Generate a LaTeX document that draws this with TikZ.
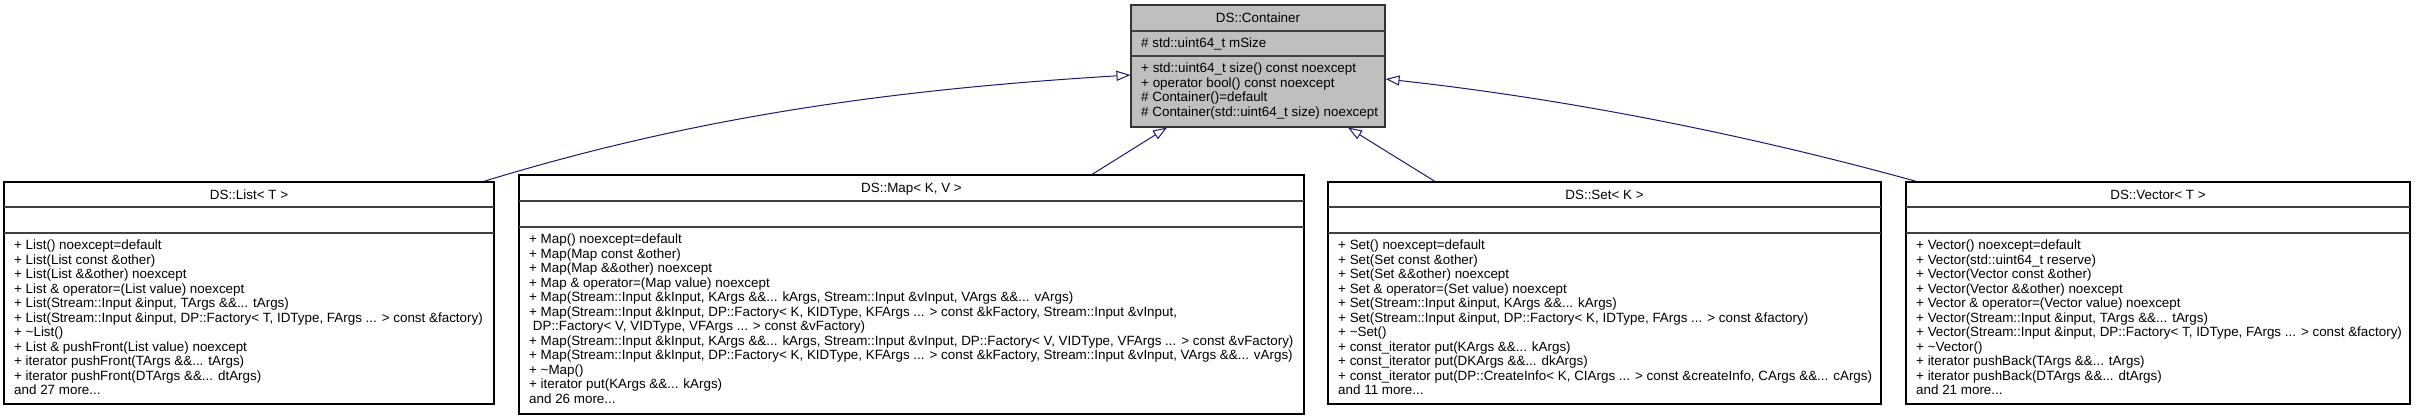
\documentclass[tikz,border=0pt]{standalone}
\usepackage{fontspec}
\setmainfont{Liberation Sans}
\usetikzlibrary{arrows.meta,fit}
\definecolor{edgeblue}{HTML}{191970}
\definecolor{basegray}{HTML}{BFBFBF}
\begin{document}
\begin{tikzpicture}[x=1pt,y=-1pt,
  classbox/.style={draw=black, line width=1.1pt, inner sep=0pt, fill=white},
  basebox/.style={classbox, fill=basegray, draw=black!80},
  divider/.style={draw=black!75, line width=1.1pt},
  titletext/.style={font=\fontsize{13.4}{14.5}\selectfont, inner sep=0pt, text height=9.6pt, text depth=0pt, anchor=center},
  attrtext/.style={font=\fontsize{13.4}{14.5}\selectfont, inner sep=0pt, text height=9.6pt, text depth=0pt, anchor=west},
  membertext/.style={font=\fontsize{13.4}{14.5}\selectfont, inner sep=0pt, anchor=north west, align=left},
  inherit/.style={draw=edgeblue, line width=1pt, -{Triangle[open, length=14pt, width=10pt, line width=1pt]}}
]
\useasboundingbox (0,0) rectangle (2416,419);

% ---------- DS::Container ----------
\node[basebox, fit={(1131,5) (1385,127)}] (cont) {};
\draw[divider] (1131,31) -- (1385,31);
\draw[divider] (1131,56) -- (1385,56);
\node[titletext] (contT) at (1258,18) {DS::Container};
\node[attrtext] (contA) at (1141,43) {\# std::uint64\_t mSize};
\node[membertext] (contM) at (1141,61.7) {\rule{0pt}{11pt}+ std::uint64\_t size() const noexcept\\
+ operator bool() const noexcept\\
\# Container()=default\\
\# Container(std::uint64\_t size) noexcept};

% ---------- DS::List ----------
\node[classbox, fit={(4,182) (494,404)}] (list) {};
\draw[divider] (4,207) -- (494,207);
\draw[divider] (4,233) -- (494,233);
\node[titletext] (listT) at (249,195) {DS::List< T >};
\node[membertext] (listM) at (14,238.7) {\rule{0pt}{11pt}+ List() noexcept=default\\
+ List(List const \&other)\\
+ List(List \&\&other) noexcept\\
+ List \& operator=(List value) noexcept\\
+ List(Stream::Input \&input, TArgs \&\&... tArgs)\\
+ List(Stream::Input \&input, DP::Factory< T, IDType, FArgs ... > const \&factory)\\
+ \textasciitilde List()\\
+ List \& pushFront(List value) noexcept\\
+ iterator pushFront(TArgs \&\&... tArgs)\\
+ iterator pushFront(DTArgs \&\&... dtArgs)\\
and 27 more...};

% ---------- DS::Map ----------
\node[classbox, fit={(519,175) (1304,414)}] (map) {};
\draw[divider] (519,201) -- (1304,201);
\draw[divider] (519,227) -- (1304,227);
\node[titletext] (mapT) at (911.5,188) {DS::Map< K, V >};
\node[membertext] (mapM) at (529,232.7) {\rule{0pt}{11pt}+ Map() noexcept=default\\
+ Map(Map const \&other)\\
+ Map(Map \&\&other) noexcept\\
+ Map \& operator=(Map value) noexcept\\
+ Map(Stream::Input \&kInput, KArgs \&\&... kArgs, Stream::Input \&vInput, VArgs \&\&... vArgs)\\
+ Map(Stream::Input \&kInput, DP::Factory< K, KIDType, KFArgs ... > const \&kFactory, Stream::Input \&vInput,\\
\hspace*{3.7pt}DP::Factory< V, VIDType, VFArgs ... > const \&vFactory)\\
+ Map(Stream::Input \&kInput, KArgs \&\&... kArgs, Stream::Input \&vInput, DP::Factory< V, VIDType, VFArgs ... > const \&vFactory)\\
+ Map(Stream::Input \&kInput, DP::Factory< K, KIDType, KFArgs ... > const \&kFactory, Stream::Input \&vInput, VArgs \&\&... vArgs)\\
+ \textasciitilde Map()\\
+ iterator put(KArgs \&\&... kArgs)\\
and 26 more...};

% ---------- DS::Set ----------
\node[classbox, fit={(1328,182) (1881,404)}] (set) {};
\draw[divider] (1328,207) -- (1881,207);
\draw[divider] (1328,233) -- (1881,233);
\node[titletext] (setT) at (1604.5,195) {DS::Set< K >};
\node[membertext] (setM) at (1338,238.7) {\rule{0pt}{11pt}+ Set() noexcept=default\\
+ Set(Set const \&other)\\
+ Set(Set \&\&other) noexcept\\
+ Set \& operator=(Set value) noexcept\\
+ Set(Stream::Input \&input, KArgs \&\&... kArgs)\\
+ Set(Stream::Input \&input, DP::Factory< K, IDType, FArgs ... > const \&factory)\\
+ \textasciitilde Set()\\
+ const\_iterator put(KArgs \&\&... kArgs)\\
+ const\_iterator put(DKArgs \&\&... dkArgs)\\
+ const\_iterator put(DP::CreateInfo< K, CIArgs ... > const \&createInfo, CArgs \&\&... cArgs)\\
and 11 more...};

% ---------- DS::Vector ----------
\node[classbox, fit={(1906,182) (2410,404)}] (vector) {};
\draw[divider] (1906,207) -- (2410,207);
\draw[divider] (1906,233) -- (2410,233);
\node[titletext] (vectorT) at (2158,195) {DS::Vector< T >};
\node[membertext] (vectorM) at (1916,238.7) {\rule{0pt}{11pt}+ Vector() noexcept=default\\
+ Vector(std::uint64\_t reserve)\\
+ Vector(Vector const \&other)\\
+ Vector(Vector \&\&other) noexcept\\
+ Vector \& operator=(Vector value) noexcept\\
+ Vector(Stream::Input \&input, TArgs \&\&... tArgs)\\
+ Vector(Stream::Input \&input, DP::Factory< T, IDType, FArgs ... > const \&factory)\\
+ \textasciitilde Vector()\\
+ iterator pushBack(TArgs \&\&... tArgs)\\
+ iterator pushBack(DTArgs \&\&... dtArgs)\\
and 21 more...};

% ---------- inheritance connectors ----------
\draw[inherit] ([xshift=-11pt]list.north east) .. controls (700,115) and (900,89) .. ([yshift=-9pt]cont.west);
\draw[inherit] ([xshift=180.5pt]map.north) -- ([xshift=-91pt]cont.south);
\draw[inherit] ([xshift=-169.5pt]set.north) -- ([xshift=90pt]cont.south);
\draw[inherit] ([xshift=11pt]vector.north west) .. controls (1767,140) and (1585,101) .. ([yshift=-13pt]cont.east);
\end{tikzpicture}
\end{document}
